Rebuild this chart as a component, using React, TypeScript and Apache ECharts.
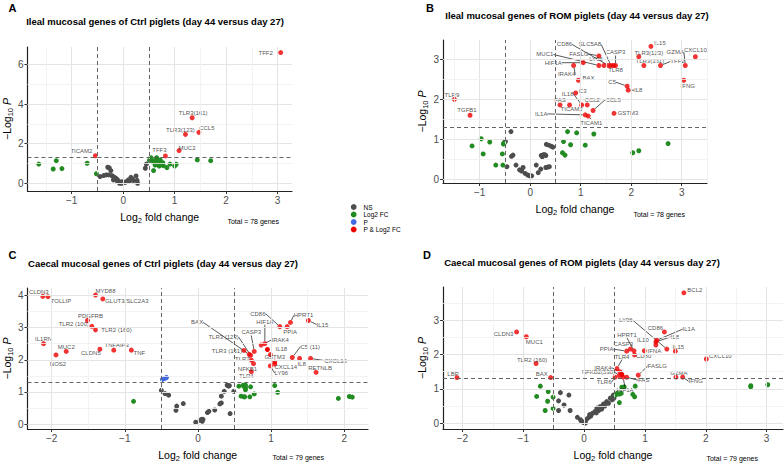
import React, { useEffect, useRef } from 'react';
import * as echarts from 'echarts';

const FONT = '"Liberation Sans", Arial, Helvetica, sans-serif';
const FC_CUT = 0.5;
const P_CUT = -Math.log10(0.05);

// ---------- Panel A: Ileal, Ctrl ----------
const aTitle = 'Ileal mucosal genes of Ctrl piglets (day 44 versus day 27)';
const aTotal = 'Total = 78 genes';
const aGenes = ['TFF2', 'TLR3(161)', 'TLR3(123)', 'CCL5', 'MUC2', 'TFF3', 'TICAM2'];
const aGeneLfc = [3.06, 1.34, 1.21, 1.47, 1.085, 0.82, -0.54];
const aGeneLogP = [6.6, 3.31, 2.47, 2.57, 1.65, 1.38, 1.39];
const aOtherLfc = [
  -1.64, -1.3, -1.36, -1.19, -0.7, -0.52,
  0.51, 0.54, 0.575, 0.65, 0.67, 0.72, 0.62, 0.7, 0.77, 0.78, 0.59, 0.85, 0.91, 1.0, 1.03, 1.44, 1.7, 0.6, 0.69, 0.75, 0.68,
  0.45, 0.43, -0.3, -0.27, -0.24, -0.38, -0.33, -0.28, -0.22, -0.17, -0.19, -0.14, -0.09, -0.045, 0.01, 0.06, 0.1, 0.15,
  0.2, 0.25, 0.27, 0.28, -0.07, -0.11, -0.03, -0.45, -0.12, 0.04, 0.18, -0.2, 0.12, -0.02,
];
const aOtherLogP = [
  0.97, 1.14, 0.72, 0.74, 1.01, 0.48,
  1.16, 1.29, 1.09, 1.29, 1.06, 1.18, 0.92, 0.87, 1.04, 0.89, 0.64, 0.79, 0.97, 0.87, 0.96, 1.18, 1.14, 1.14, 0.98, 0.95, 1.12,
  0.97, 0.76, 0.81, 0.78, 0.64, 0.39, 0.42, 0.42, 0.39, 0.3, 0.17, 0.25, 0.12, 0.03, 0.03, 0.08, 0.17, 0.3,
  0.13, 0.37, 0.15, 0.0, 0.0, 0.08, 0.0, 0.34, 0.2, 0.05, 0.22, 0.35, 0.1, 0.08,
];
const aXTicks = [-1, 0, 1, 2, 3];
const aYTicks = [0, 2, 4, 6];

// ---------- Panel B: Ileal, ROM ----------
const bTitle = 'Ileal mucosal genes of ROM piglets (day 44 versus day 27)';
const bTotal = 'Total = 78 genes';
const bGenes = [
  'TLR9', 'TGFB1', 'IL15', 'TLR3(123)', 'TLR3(161)', 'TFF2', 'GZMA', 'CXCL10', 'IFNG', 'C5', 'IL8', 'GSTM3', 'CCL5',
  'BAX', 'C3', 'IL18', 'FAS', 'TICAM2', 'CCL2', 'IL1A', 'TICAM1', 'IRAK4', 'HIF1A', 'MUC1', 'FASLG', 'LY96', 'CD86',
  'SLC5A8', 'TLR8', 'CASP3',
];
const bGeneLfc = [
  -1.5, -1.19, 2.39, 2.15, 2.25, 2.58, 3.07, 3.27, 3.04, 1.92, 1.94, 1.66, 1.245,
  0.955, 0.9, 1.02, 0.59, 0.78, 1.13, 1.09, 1.15, 0.86, 1.05, 1.36, 1.36, 1.46, 1.55,
  1.6, 1.65, 1.69,
];
const bGeneLogP = [
  2.0, 1.6, 3.33, 3.07, 2.85, 2.85, 2.85, 3.07, 2.48, 2.33, 2.23, 1.65, 1.72,
  2.48, 2.16, 1.86, 1.86, 1.86, 1.86, 1.61, 1.58, 2.85, 2.92, 2.85, 3.09, 2.85, 2.85,
  2.85, 2.85, 2.85,
];
const bOtherLfc = [
  -1.15, -0.97, -0.93, -0.8, -0.68, -0.55, -0.54, -0.53, -0.52, 0.74, 0.92, 1.26, 0.66, 0.8, 1.09, 0.64, 0.69, 2.03, 2.15, 2.73,
  -0.38, -0.49, -0.5, -0.34, -0.37, -0.46, -0.28, -0.21, -0.14, -0.17, -0.1, -0.05, -0.01, 0.03, 0.12, 0.16, 0.21, 0.22, 0.26,
  0.29, 0.31, 0.24, 0.31, 0.35, 0.38, 0.32, 0.37, 0.42, 0.45,
];
const bOtherLogP = [
  0.83, 1.01, 0.63, 0.93, 0.35, 0.63, 0.35, 0.88, 0.9, 1.19, 1.16, 1.13, 0.94, 0.86, 0.85, 0.66, 0.6, 0.66, 0.71, 0.89,
  1.19, 0.95, 0.93, 0.6, 0.57, 0.31, 0.35, 0.23, 0.29, 0.2, 0.14, 0.1, 0.08, 0.08, 0.35, 0.16, 0.25, 0.59, 0.61,
  0.61, 0.59, 0.56, 0.29, 0.3, 0.31, 0.87, 0.85, 0.82, 0.8,
];
const bXTicks = [-1, 0, 1, 2, 3];
const bYTicks = [0, 1, 2, 3];

// ---------- Panel C: Caecal, Ctrl ----------
const cTitle = 'Caecal mucosal genes of Ctrl piglets (day 44 versus day 27)';
const cTotal = 'Total = 79 genes';
const cGenes = [
  'CLDN3', 'TOLLIP', 'MYD88', 'GLUT3/SLC2A3', 'PDGFRB', 'TLR2 (100)', 'TLR2 (160)', 'IL1RN', 'MUC2', 'NOS2', 'CLDN5',
  'TNFAIP3', 'TNF', 'CD86', 'PPIA', 'HPRT1', 'IL15', 'HIF1A', 'IRAK4', 'BAX', 'TLR3 (123)', 'TLR3 (161)', 'CASP3',
  'IL18', 'TLR7', 'NFKB1', 'TLR4', 'LY96', 'GSTM3', 'CXCL14', 'C5 (11)', 'IL8', 'CXCL10', 'RETNLB',
];
const cGeneLfc = [
  -2.12, -2.05, -1.4, -1.3, -1.51, -1.45, -1.4, -2.11, -1.8, -1.94, -1.34,
  -1.15, -0.91, 1.12, 1.22, 1.265, 1.51, 0.915, 0.865, 0.7, 0.72, 0.63, 0.77,
  0.99, 0.73, 0.76, 0.73, 0.99, 1.05, 1.05, 1.29, 1.39, 1.54, 1.615,
];
const cGeneLogP = [
  3.97, 3.96, 4.01, 3.89, 3.22, 3.04, 2.93, 2.5, 2.26, 2.15, 2.33,
  2.3, 2.3, 3.03, 3.03, 3.16, 3.22, 2.5, 2.46, 2.17, 2.14, 2.29, 2.26,
  2.16, 1.99, 1.88, 1.63, 1.81, 1.93, 1.87, 2.07, 2.04, 2.04, 1.61,
];
const cOtherLfc = [
  0.95,
  -0.485, -0.45, -0.43,
  -0.88, 0.56, 0.62, 0.63, 0.65, 0.65, 0.65, 0.59, 0.63, 0.64, 0.77, 1.05, 1.09, 1.92, 2.07, 2.11, 0.71, 0.72,
  -0.5, -0.45, -0.4, -0.29, -0.3, -0.2, -0.03, 0.03, 0.05, 0.07, 0.06, 0.13, 0.15, 0.23, 0.3, 0.32, 0.32, 0.36, 0.4,
  0.43, 0.44, 0.49, 0.42,
];
const cOtherLogP = [
  2.32,
  1.39, 1.42, 1.45,
  0.71, 1.18, 1.21, 1.17, 1.21, 1.14, 1.07, 0.87, 0.85, 0.85, 0.94, 1.2, 0.99, 0.8, 0.86, 0.84, 0.85, 1.16,
  1.05, 0.95, 0.9, 0.56, 0.43, 0.64, 0.06, 0.12, 0.15, 0.15, 0.09, 0.36, 0.4, 0.44, 0.63, 0.66, 0.87, 1.02, 1.21,
  1.2, 0.33, 1.02, 1.18,
];
const cXTicks = [-2, -1, 0, 1, 2];
const cYTicks = [0, 1, 2, 3, 4];

// ---------- Panel D: Caecal, ROM ----------
const dTitle = 'Caecal mucosal genes of ROM piglets (day 44 versus day 27)';
const dTotal = 'Total = 79 genes';
const dGenes = [
  'BCL2', 'CLDN3', 'MUC1', 'TLR2 (160)', 'LBP', 'BAX', 'CD86', 'IL1A', 'IL8', 'IL10', 'LY96', 'IL15', 'IFNA', 'PPIA',
  'CASP3', 'HPRT1', 'CD80', 'CXCL10', 'FASLG', 'GZMA', 'IFNG', 'TLR4', 'IRAK4', 'NFKB2(538)', 'TLR6', 'FAS', 'HIF1A',
];
const dGeneLfc = [
  1.64, -1.11, -0.95, -0.79, -2.09, -0.55, 1.32, 1.195, 1.18, 1.18, 1.36, 1.5, 0.99, 0.7,
  0.76, 0.82, 0.83, 2.01, 0.89, 1.51, 1.62, 0.54, 0.59, 0.58, 0.51, 0.7, 0.64,
];
const dGeneLogP = [
  3.8, 2.66, 2.52, 1.74, 1.33, 1.33, 2.66, 2.42, 2.37, 2.28, 2.16, 2.1, 2.11, 2.1,
  2.16, 2.11, 1.99, 1.87, 1.4, 1.34, 1.34, 1.59, 1.5, 1.39, 1.34, 1.34, 1.34,
];
const dOtherLfc = [
  0.62,
  -0.72, -0.59, -0.78, -0.6, -0.51, -0.64, -0.51, 0.66, 0.62, 0.84, 0.54, 0.58, 0.61, 0.8, 0.83, 0.58, 2.74, 2.74, 3.02, 0.52,
  -0.39, -0.25, -0.42, -0.33, -0.42, -0.23, -0.11, -0.04, -0.01, 0.016, 0.044, 0.077, 0.11, 0.14, 0.18, 0.21, 0.24, 0.26,
  0.29, 0.32, 0.34, 0.37, 0.4, 0.43, 0.46, 0.48, 0.49, -0.06, 0.02, 0.09, 0.2, 0.3,
];
const dOtherLogP = [
  1.42,
  1.08, 0.92, 0.78, 0.64, 0.76, 0.37, 0.43, 1.06, 1.05, 1.08, 0.87, 0.85, 0.87, 0.84, 0.77, 0.6, 1.09, 1.06, 1.12, 0.82,
  0.89, 0.82, 0.65, 0.53, 0.37, 0.37, 0.17, 0.05, 0.02, 0.05, 0.12, 0.17, 0.21, 0.29, 0.34, 0.44, 0.37, 0.48,
  0.41, 0.56, 0.5, 0.63, 0.58, 0.73, 0.68, 0.82, 0.73, 0.1, 0.0, 0.25, 0.3, 0.5,
];
const dXTicks = [-2, -1, 0, 1, 2, 3];
const dYTicks = [0, 1, 2, 3];

// ---------- legend ----------
const legendNames = ['NS', 'Log2 FC', 'P', 'P & Log2 FC'];
const legendKeys = ['ns', 'fc', 'p', 'both'];

// ---------- label placement (pixel offsets of label centre from point) ----------
const aLabelOffsets: Record<string, number[]> = {
  TFF2: [-15, 0], 'TLR3(161)': [1, -5], 'TLR3(123)': [-5, -4], CCL5: [8, -4], MUC2: [8, -2.5], TFF3: [-6, -5.5], TICAM2: [-14, -5],
};
const aLinked: string[] = [];
const bLabelOffsets: Record<string, number[]> = {
  TLR9: [-2.5, -4.5], TGFB1: [-3, -5], IL15: [9, -3], 'TLR3(123)': [10, -4], 'TLR3(161)': [6, -4], TFF2: [17, -4],
  GZMA: [-10, -13], CXCL10: [0, -7], IFNG: [4, 6], C5: [-15, -4], IL8: [10, 0], GSTM3: [14, 0], CCL5: [20, -11],
  BAX: [10, -2], C3: [7, -2], IL18: [-14, -11], FAS: [0, -4.5], TICAM2: [2, 4.5], CCL2: [5, -4.5], IL1A: [-44, -1],
  TICAM1: [3, 6.5], IRAK4: [-7, 9], HIF1A: [-30, 0], MUC1: [-54, -11], FASLG: [-20, -2], LY96: [-8, -6],
  CD86: [-44, -21], SLC5A8: [-21, -21], TLR8: [2, 5], CASP3: [0, -13],
};
const bLinked = ['TFF2', 'GZMA', 'C5', 'IL8', 'CCL5', 'IL18', 'IL1A', 'TICAM1', 'IRAK4', 'HIF1A', 'MUC1', 'FASLG', 'CD86', 'SLC5A8', 'CASP3'];
const cLabelOffsets: Record<string, number[]> = {
  CLDN3: [-4, -4.5], TOLLIP: [13, 4], MYD88: [10, -4], 'GLUT3/SLC2A3': [24, 2], PDGFRB: [3, -5], 'TLR2 (100)': [-18, -2],
  'TLR2 (160)': [21, 0], IL1RN: [0, -5], MUC2: [0, -4.5], NOS2: [2, 9], CLDN5: [-9, 4], TNFAIP3: [3, -5], TNF: [8, 3],
  CD86: [-22, -13], PPIA: [3, 5], HPRT1: [13, -7], IL15: [14, 4], HIF1A: [0, -22], IRAK4: [19, -5], BAX: [-52, -32],
  'TLR3 (123)': [-27, -18], 'TLR3 (161)': [-17, 1], CASP3: [-3, -19], IL18: [11, -6], TLR7: [-9, -1], NFKB1: [-6, 5],
  TLR4: [-5, 4.5], LY96: [11, 7], GSTM3: [0, -5], CXCL14: [11, 3], 'C5 (11)': [18, -11], IL8: [2, 5], CXCL10: [25, 2],
  RETNLB: [4, -4],
};
const cLinked = ['CD86', 'HPRT1', 'IL15', 'HIF1A', 'IRAK4', 'BAX', 'TLR3 (123)', 'CASP3', 'LY96', 'C5 (11)', 'CXCL10'];
const dLabelOffsets: Record<string, number[]> = {
  BCL2: [11, -3], CLDN3: [-13, 2], MUC1: [8, 5], 'TLR2 (160)': [-4, -3.5], LBP: [-4, -3.5], BAX: [-9, -3.5],
  CD86: [-9, -4], IL1A: [32, -11], IL8: [19, -5], IL10: [-13, -5], LY96: [-41, -29], IL15: [3, -4], IFNA: [10, 0],
  PPIA: [-20, -2], CASP3: [-7, -5], HPRT1: [-7, -16], CD80: [9, 1], CXCL10: [14, -3], FASLG: [19, -9], GZMA: [3, -4],
  IFNG: [13, 4], TLR4: [5, -12], IRAK4: [-17, -4], 'NFKB2(538)': [-21, -3], TLR6: [-11, 5], FAS: [17, 3], HIF1A: [2, 13],
};
const dLinked = ['IL1A', 'IL8', 'LY96', 'PPIA', 'HPRT1', 'FASLG', 'IFNG', 'TLR4', 'IRAK4', 'NFKB2(538)', 'TLR6', 'FAS', 'HIF1A'];

const COLORS: Record<string, string> = { ns: '#4d4d4d', fc: '#228b22', p: '#4169e1', both: '#ee0000' };

type PanelData = {
  title: string; total: string; genes: string[]; lfc: number[]; logP: number[];
  otherLfc: number[]; otherLogP: number[]; xTicks: number[]; yTicks: number[];
  offsets: Record<string, number[]>; linked: string[];
};

const panels: PanelData[] = [
  { title: aTitle, total: aTotal, genes: aGenes, lfc: aGeneLfc, logP: aGeneLogP, otherLfc: aOtherLfc, otherLogP: aOtherLogP, xTicks: aXTicks, yTicks: aYTicks, offsets: aLabelOffsets, linked: aLinked },
  { title: bTitle, total: bTotal, genes: bGenes, lfc: bGeneLfc, logP: bGeneLogP, otherLfc: bOtherLfc, otherLogP: bOtherLogP, xTicks: bXTicks, yTicks: bYTicks, offsets: bLabelOffsets, linked: bLinked },
  { title: cTitle, total: cTotal, genes: cGenes, lfc: cGeneLfc, logP: cGeneLogP, otherLfc: cOtherLfc, otherLogP: cOtherLogP, xTicks: cXTicks, yTicks: cYTicks, offsets: cLabelOffsets, linked: cLinked },
  { title: dTitle, total: dTotal, genes: dGenes, lfc: dGeneLfc, logP: dGeneLogP, otherLfc: dOtherLfc, otherLogP: dOtherLogP, xTicks: dXTicks, yTicks: dYTicks, offsets: dLabelOffsets, linked: dLinked },
];

// layout of each panel (pixels) and visible axis extents
const layouts = [
  { letter: 'A', left: 27, top: 47, width: 265, height: 144, x: [-1.86, 3.28], y: [-0.39, 6.88], titleX: 155, titleY: 21.5, letterX: 12.5, letterY: 7.5, totalX: 279, totalY: 221 },
  { letter: 'B', left: 443, top: 40, width: 264, height: 143, x: [-1.725, 3.5], y: [-0.1, 3.49], titleX: 577, titleY: 15, letterX: 430, letterY: 7.5, totalX: 685, totalY: 214 },
  { letter: 'C', left: 27, top: 288, width: 341, height: 143.5, x: [-2.33, 2.325], y: [-0.15, 4.23], titleX: 163, titleY: 263, letterX: 12.5, letterY: 254.5, totalX: 324, totalY: 457.5 },
  { letter: 'D', left: 443, top: 287, width: 340, height: 142.5, x: [-2.32, 3.27], y: [-0.17, 3.97], titleX: 582, titleY: 262, letterX: 427, letterY: 254.5, totalX: 758, totalY: 458 },
];

function classify(x: number, y: number): string {
  const fc = Math.abs(x) > FC_CUT;
  const p = y > P_CUT;
  if (fc && p) return 'both';
  if (fc) return 'fc';
  if (p) return 'p';
  return 'ns';
}

function minorOf(ticks: number[], range: number[]): number[] {
  const step = ticks[1] - ticks[0];
  const out: number[] = [];
  for (let v = ticks[0] - step / 2; v <= range[1]; v += step) {
    if (v >= range[0]) out.push(+v.toFixed(4));
  }
  return out;
}

const fmt = (v: number) => (v < 0 ? '\u2212' + Math.abs(v) : String(v));

function buildOption() {
  const grids: any[] = [];
  const xAxes: any[] = [];
  const yAxes: any[] = [];
  const series: any[] = [];
  const graphics: any[] = [];

  panels.forEach((d, i) => {
    const L = layouts[i];
    grids.push({ left: L.left, top: L.top, width: L.width, height: L.height, containLabel: false });
    xAxes.push({
      type: 'value', gridIndex: i, min: L.x[0], max: L.x[1], z: 1,
      name: '{a|Log}{s|2}{a| fold change}', nameLocation: 'middle', nameGap: 18,
      nameTextStyle: { color: '#000', fontFamily: FONT, rich: { a: { fontSize: 10.5, fontFamily: FONT, color: '#000', lineHeight: 15 }, s: { fontSize: 7.5, fontFamily: FONT, color: '#000', lineHeight: 15, verticalAlign: 'bottom' } } },
      axisLine: { show: true, onZero: false, lineStyle: { color: '#222', width: 1.2 } },
      axisTick: { show: true, customValues: d.xTicks, length: 3, lineStyle: { color: '#333', width: 1 } },
      axisLabel: { customValues: d.xTicks, formatter: fmt, fontSize: 10, color: '#4d4d4d', fontFamily: FONT, margin: 4 },
      splitLine: { show: false },
    });
    yAxes.push({
      type: 'value', gridIndex: i, min: L.y[0], max: L.y[1], z: 1,
      name: '{a|\u2212Log}{s|10}{i| P}', nameLocation: 'middle', nameGap: 13, nameRotate: 90,
      nameTextStyle: { color: '#000', fontFamily: FONT, rich: { a: { fontSize: 10.5, fontFamily: FONT, color: '#000', lineHeight: 15 }, s: { fontSize: 7.5, fontFamily: FONT, color: '#000', lineHeight: 15, verticalAlign: 'bottom' }, i: { fontSize: 10.5, fontFamily: FONT, color: '#000', fontStyle: 'italic', lineHeight: 15 } } },
      axisLine: { show: true, onZero: false, lineStyle: { color: '#222', width: 1.2 } },
      axisTick: { show: true, customValues: d.yTicks, length: 3, lineStyle: { color: '#333', width: 1 } },
      axisLabel: { customValues: d.yTicks, formatter: fmt, fontSize: 10, color: '#4d4d4d', fontFamily: FONT, margin: 4 },
      splitLine: { show: false },
    });

    // grid lines
    const major = { color: '#e4e4e4', width: 1, type: 'solid' };
    const minor = { color: '#f0f0f0', width: 0.8, type: 'solid' };
    const gridData: any[] = [];
    d.xTicks.forEach((v) => gridData.push({ xAxis: v, lineStyle: major }));
    d.yTicks.forEach((v) => gridData.push({ yAxis: v, lineStyle: major }));
    minorOf(d.xTicks, L.x).forEach((v) => gridData.push({ xAxis: v, lineStyle: minor }));
    minorOf(d.yTicks, L.y).forEach((v) => gridData.push({ yAxis: v, lineStyle: minor }));
    series.push({
      type: 'scatter', xAxisIndex: i, yAxisIndex: i, data: [], z: 0, silent: true,
      markLine: { silent: true, symbol: ['none', 'none'], label: { show: false }, emphasis: { disabled: true }, animation: false, data: gridData },
    });

    // unlabelled points by category
    const groups: Record<string, number[][]> = { ns: [], fc: [], p: [], both: [] };
    d.otherLfc.forEach((x, k) => groups[classify(x, d.otherLogP[k])].push([x, d.otherLogP[k]]));
    legendKeys.forEach((key) => {
      series.push({
        type: 'scatter', xAxisIndex: i, yAxisIndex: i, data: groups[key], symbolSize: 5, z: 2, silent: true,
        itemStyle: { color: COLORS[key], opacity: 1 },
      });
    });

    // threshold lines
    const dash = { color: '#555', width: 0.9, type: [4, 3] };
    series.push({
      type: 'scatter', xAxisIndex: i, yAxisIndex: i, data: [], z: 3, silent: true,
      markLine: {
        silent: true, symbol: ['none', 'none'], label: { show: false }, emphasis: { disabled: true }, animation: false,
        data: [{ xAxis: -FC_CUT, lineStyle: dash }, { xAxis: FC_CUT, lineStyle: dash }, { yAxis: P_CUT, lineStyle: dash }],
      },
    });

    // labelled points
    const plain: any[] = [];
    const linked: any[] = [];
    d.genes.forEach((g, k) => {
      const item = { name: g, value: [d.lfc[k], d.logP[k]], itemStyle: { color: COLORS[classify(d.lfc[k], d.logP[k])] } };
      (d.linked.includes(g) ? linked : plain).push(item);
    });
    [plain, linked].forEach((arr, j) => {
      series.push({
        type: 'scatter', xAxisIndex: i, yAxisIndex: i, data: arr, symbolSize: 5, z: 4, silent: true,
        label: {
          show: true, position: 'top', distance: 0, formatter: '{b}', fontSize: 6, color: '#222', fontFamily: FONT,
          textBorderWidth: 0,
        },
        labelLine: { show: j === 1, lineStyle: { color: '#111', width: 0.7 } },
        labelLayout: (params: any) => {
          const name = arr[params.dataIndex] ? arr[params.dataIndex].name : '';
          const off = d.offsets[name] || [0, 0];
          const r = params.rect;
          return {
            x: r.x + r.width / 2 + off[0],
            y: r.y + r.height / 2 + off[1],
            align: 'center',
            verticalAlign: 'middle',
          };
        },
      });
    });

    graphics.push({ type: 'text', x: L.letterX, y: L.letterY, style: { text: L.letter, fontSize: 11, fontWeight: 'bold', fontFamily: FONT, fill: '#000', align: 'center', verticalAlign: 'middle' } });
    graphics.push({ type: 'text', x: L.titleX, y: L.titleY, style: { text: d.title, fontSize: 9.5, fontWeight: 'bold', fontFamily: FONT, fill: '#000', align: 'center', verticalAlign: 'middle' } });
    graphics.push({ type: 'text', x: L.totalX, y: L.totalY, style: { text: d.total, fontSize: 7, fontFamily: FONT, fill: '#000', align: 'right', verticalAlign: 'middle' } });
  });

  // shared legend
  legendNames.forEach((nm, k) => {
    const cy = 207 + k * 7.5;
    graphics.push({ type: 'circle', shape: { cx: 353.7, cy, r: 2.9 }, style: { fill: COLORS[legendKeys[k]] } });
    graphics.push({ type: 'text', x: 363.5, y: cy, style: { text: nm, fontSize: 6.5, fontFamily: FONT, fill: '#000', align: 'left', verticalAlign: 'middle' } });
  });

  return {
    animation: false,
    backgroundColor: '#ffffff',
    grid: grids,
    xAxis: xAxes,
    yAxis: yAxes,
    series,
    graphic: { elements: graphics },
  };
}

export default function App() {
  const ref = useRef<HTMLDivElement>(null);
  useEffect(() => {
    if (!ref.current) return;
    const chart = echarts.init(ref.current, undefined, { renderer: 'svg' });
    chart.setOption(buildOption() as any);
    return () => chart.dispose();
  }, []);
  return <div ref={ref} style={{ width: 784, height: 463, position: 'absolute', left: 0, top: 0 }} />;
}
